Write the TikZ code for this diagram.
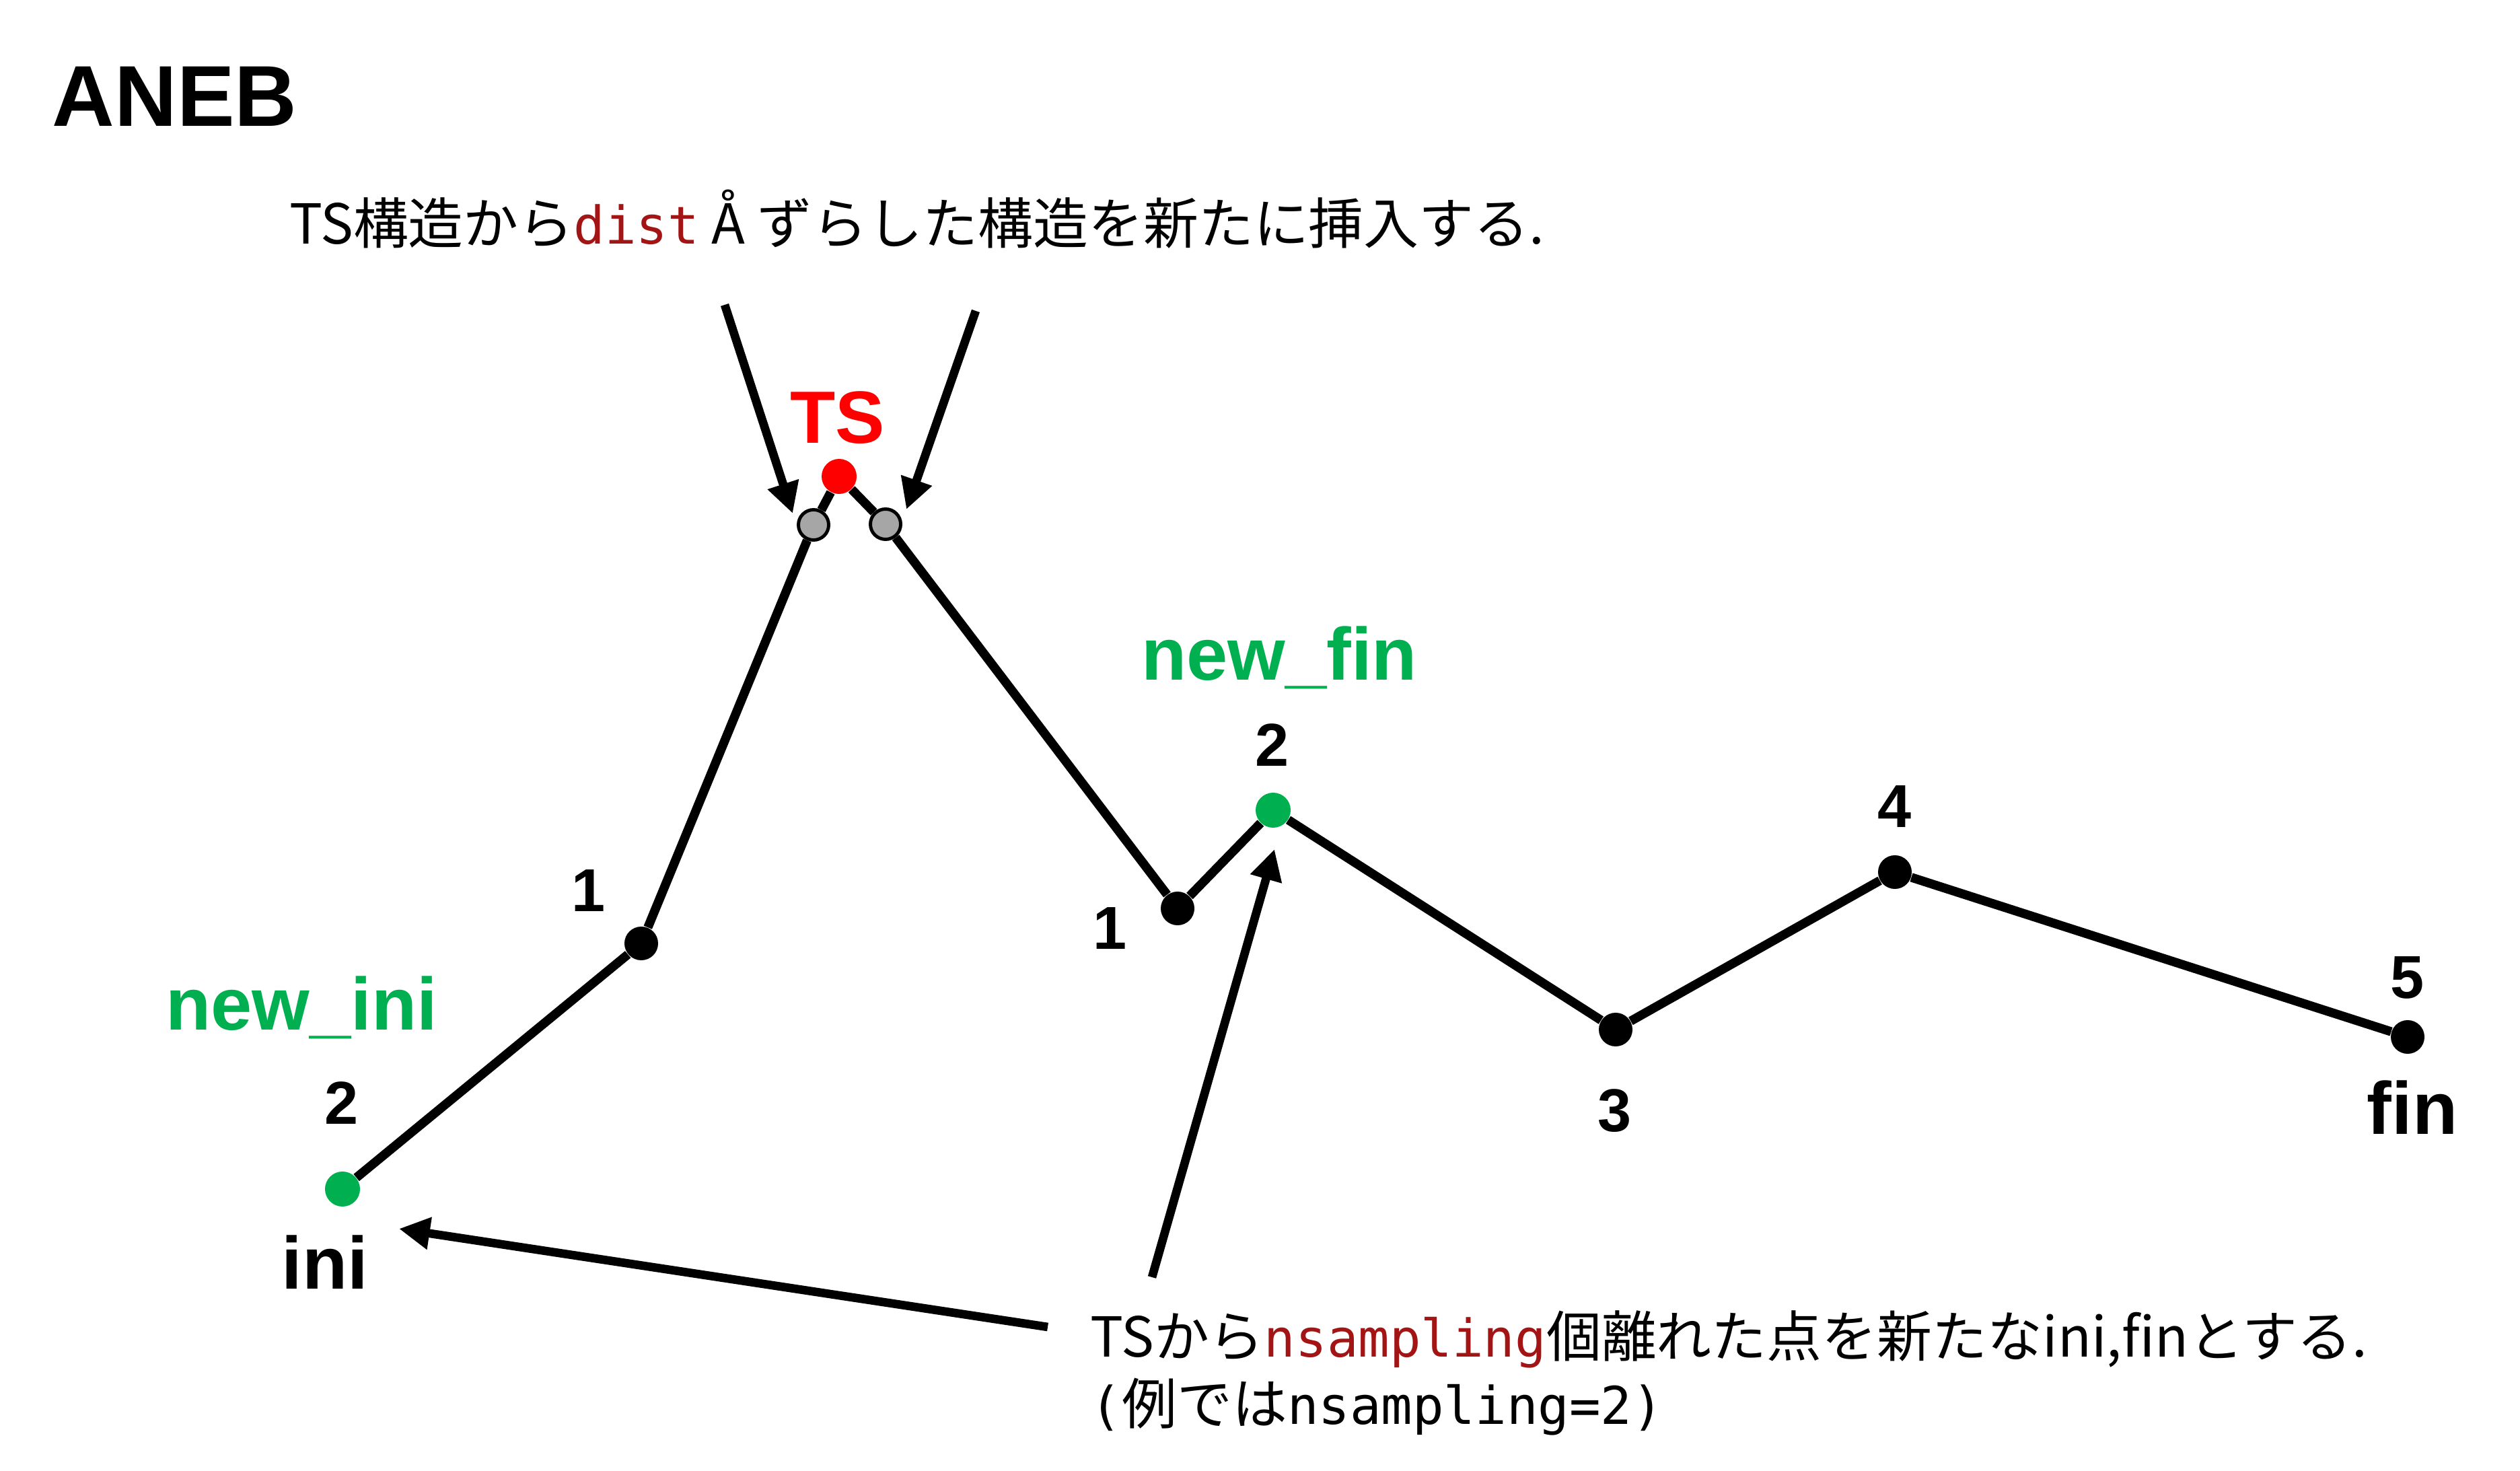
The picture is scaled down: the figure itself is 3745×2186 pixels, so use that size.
\documentclass[tikz,border=0pt]{standalone}
\usepackage{fontspec}
\setmainfont{Liberation Sans}
\setmonofont{DejaVu Sans Mono}
\newfontfamily\jpfont{Noto Sans CJK JP}
\usetikzlibrary{arrows.meta}
\definecolor{tsred}{RGB}{255,0,0}
\definecolor{newgreen}{RGB}{0,176,80}
\definecolor{codered}{RGB}{163,21,21}
\definecolor{ptgray}{RGB}{166,166,166}
\newcommand{\codetxt}[1]{{\fontsize{22}{28.5}\selectfont\ttfamily #1}}
\begin{document}
\begin{tikzpicture}[x=0.01cm,y=-0.01cm,
    dot/.style={circle,fill=#1,inner sep=0pt,minimum size=0.5cm},
    dot/.default=black,
    shifted/.style={circle,fill=ptgray,draw=black,line width=1.4pt,inner sep=0pt,minimum size=0.45cm},
    num/.style={font=\fontsize{25.6}{30}\selectfont\bfseries,anchor=base,inner sep=0pt},
    tag/.style={font=\fontsize{31.3}{36}\selectfont\bfseries,anchor=base,inner sep=0pt},
    jp/.style={font=\fontsize{23.3}{28.5}\selectfont\jpfont,anchor=base west,inner sep=0pt},
    pointer/.style={line width=3.6pt,-{Triangle[length=13pt,width=13pt]}}]
  \useasboundingbox (0,0) rectangle (3745,2186);
  \node[font=\fontsize{36.5}{44}\selectfont\bfseries,anchor=base west,inner sep=0pt] (title) at (77,188) {ANEB};

  % points of the path
  \node[dot=newgreen,minimum size=0.52cm] (ini) at (509,1767) {};
  \node[dot] (p1) at (953,1402) {};
  \node[shifted] (g1) at (1209,780) {};
  \node[dot=tsred,minimum size=0.52cm] (ts) at (1247,708) {};
  \node[shifted] (g2) at (1316,779) {};
  \node[dot] (q1) at (1750,1350) {};
  \node[dot=newgreen,minimum size=0.52cm] (nf) at (1892,1204) {};
  \foreach \n/\x/\y in {p3/2401/1530,p4/2816/1296,p5/3578/1541}
    \node[dot] (\n) at (\x,\y) {};
  \draw[line width=3.8pt] (ini) -- (p1) -- (g1) -- (ts) -- (g2) -- (q1) -- (nf) -- (p3) -- (p4) -- (p5);

  % labels
  \foreach \n/\t/\x/\y in {n1a/1/875/1355,n2a/2/508/1670,n1b/1/1650/1410,n2b/2/1891/1139,
                          n3/3/2400/1681,n4/4/2815/1230,n5/5/3577/1483}
    \node[num] (\n) at (\x,\y) {\t};
  \node[tag,text=newgreen] (newini) at (448,1530) {new\_ini};
  \node[tag,text=newgreen] (newfin) at (1901,1011) {new\_fin};
  \node[tag] (inilab) at (483,1915) {ini};
  \node[tag] (finlab) at (3585,1685) {fin};
  \node[tag,text=tsred] (tslab) at (1245,659) {TS};

  % notes
  \node[jp] (dtext) at (430,363)
    {TS構造から\codetxt{\color{codered}dist} Å ずらした構造を新たに挿入する.};
  \node[jp] (stext) at (1620,2016)
    {TSから\codetxt{\color{codered}nsampling}個離れた点を新たなini,finとする.};
  \node[jp] (stext2) at (1620,2116) {\codetxt{(}例では\codetxt{nsampling=2)}};

  \coordinate (a1) at (1077,453);  \coordinate (t1) at (1178,763);
  \coordinate (a2) at (1450,462);  \coordinate (t2) at (1347,757);
  \coordinate (a3) at (1557,1972); \coordinate (t3) at (593,1826);
  \coordinate (a4) at (1712,1898); \coordinate (t4) at (1894,1262);
  \foreach \s/\e in {a1/t1,a2/t2,a3/t3,a4/t4}
    \draw[pointer] (\s) -- (\e);
\end{tikzpicture}
\end{document}
